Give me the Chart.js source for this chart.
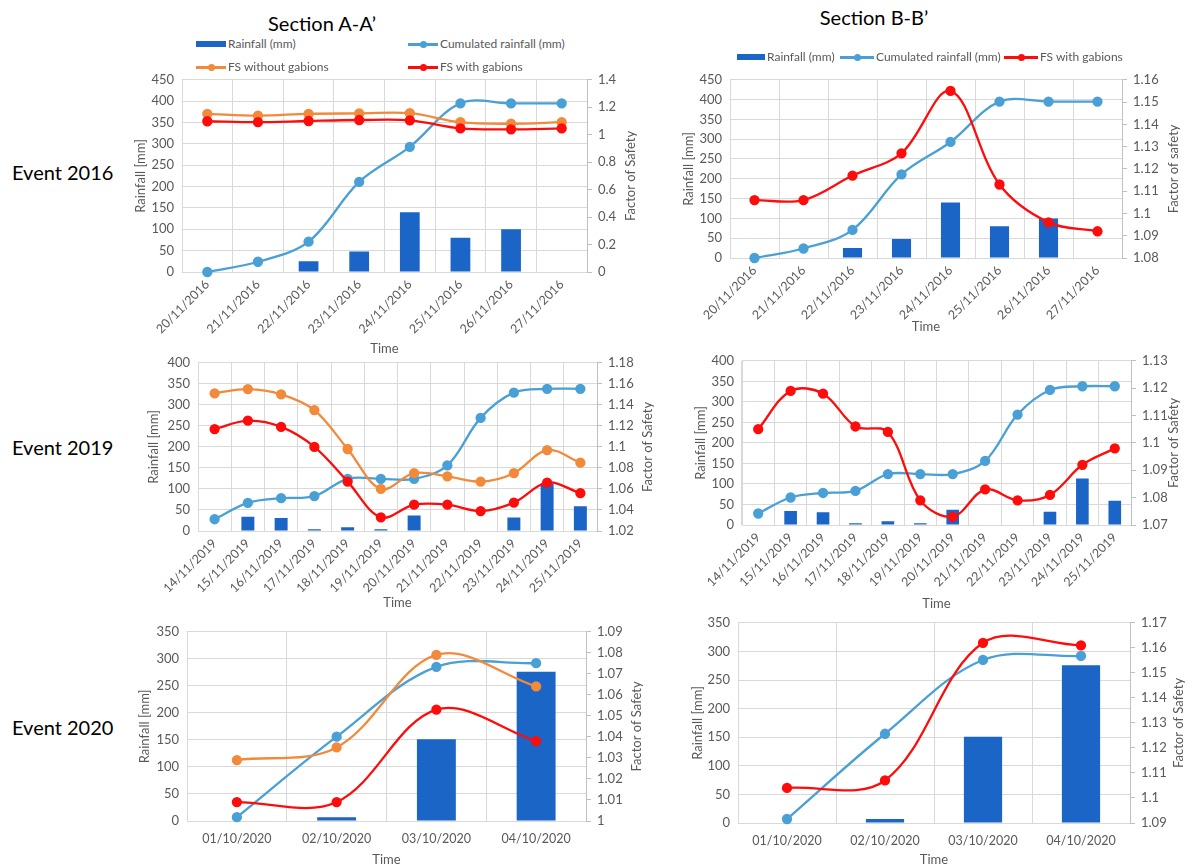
<!DOCTYPE html>
<html>
<head>
<meta charset="utf-8">
<script src="https://cdn.jsdelivr.net/npm/chart.js@4.4.1/dist/chart.umd.min.js"></script>
<style>
  body { margin: 0; width: 1204px; height: 868px; position: relative; overflow: hidden; background: #fff; font-family: Lato, sans-serif; }
  canvas { position: absolute; }
  .lbl { position: absolute; font-size: 20px; color: #000; white-space: nowrap; transform: translate(-50%, -50%); }
  .side { position: absolute; font-size: 20px; color: #000; white-space: nowrap; transform: translateY(-50%); }
  .item { position: absolute; height: 16px; line-height: 16px; font-size: 12px; color: #595959; white-space: nowrap; display: flex; align-items: center; z-index: 2; }
  .sw { position: relative; display: inline-block; height: 16px; margin-right: 2px; }
  .sw.bar::before { content: ''; position: absolute; left: 0; right: 0; top: 5px; height: 6px; background: var(--c); }
  .sw.line::before { content: ''; position: absolute; left: 0; right: 0; top: 7px; height: 2.5px; background: var(--c); }
  .sw.line::after { content: ''; position: absolute; left: 50%; top: 4.5px; width: 7px; height: 7px; margin-left: -3.5px; border-radius: 50%; background: var(--c); }
</style>
</head>
<body>
<div class="lbl" style="left:322px;top:23px">Section A-A’</div>
<div class="lbl" style="left:874px;top:17px">Section B-B’</div>
<div class="side" style="left:12px;top:172px">Event 2016</div>
<div class="side" style="left:12px;top:447px">Event 2019</div>
<div class="side" style="left:12px;top:727px">Event 2020</div>

<script>
// ---- data ----
const days2016 = ['20/11/2016', '21/11/2016', '22/11/2016', '23/11/2016', '24/11/2016', '25/11/2016', '26/11/2016', '27/11/2016'];
const rain2016 = [0, 0, 25, 48, 140, 80, 100, 0];
const cum2016 = [0, 24, 71, 211, 293, 395, 395, 395];
const fsNoGabA2016 = [1.152, 1.139, 1.152, 1.155, 1.157, 1.091, 1.080, 1.091];
const fsGabA2016 = [1.098, 1.091, 1.100, 1.107, 1.105, 1.046, 1.039, 1.046];
const fsGabB2016 = [1.106, 1.106, 1.117, 1.127, 1.155, 1.113, 1.096, 1.092];

const days2019 = ['14/11/2019', '15/11/2019', '16/11/2019', '17/11/2019', '18/11/2019', '19/11/2019',
                  '20/11/2019', '21/11/2019', '22/11/2019', '23/11/2019', '24/11/2019', '25/11/2019'];
const rain2019 = [0, 34, 31, 4, 9, 4, 37, 0, 0, 32, 113, 59];
const cum2019 = [28, 67, 78, 83, 124, 124, 124, 156, 269, 329, 338, 338];
const fsNoGabA2019 = [1.151, 1.155, 1.150, 1.135, 1.098, 1.060, 1.075, 1.072, 1.067, 1.075, 1.097, 1.085];
const fsGabA2019 = [1.117, 1.125, 1.119, 1.100, 1.067, 1.033, 1.045, 1.045, 1.039, 1.047, 1.066, 1.056];
const fsGabB2019 = [1.105, 1.119, 1.118, 1.106, 1.104, 1.079, 1.073, 1.083, 1.079, 1.081, 1.092, 1.098];

const days2020 = ['01/10/2020', '02/10/2020', '03/10/2020', '04/10/2020'];
const rain2020 = [0, 7, 151, 276];
const cum2020 = [7, 156, 285, 292];
const fsNoGabA2020 = [1.029, 1.035, 1.079, 1.064];
const fsGabA2020 = [1.009, 1.009, 1.053, 1.038];
const fsGabB2020 = [1.104, 1.107, 1.162, 1.161];

// axis ranges: [min, max, step]
const rainAxis2016 = [0, 450, 50], fsAxisA2016 = [0, 1.4, 0.2], fsAxisB2016 = [1.08, 1.16, 0.01];
const rainAxis2019 = [0, 400, 50], fsAxisA2019 = [1.02, 1.18, 0.02], fsAxisB2019 = [1.07, 1.13, 0.01];
const rainAxis2020 = [0, 350, 50], fsAxisA2020 = [1.00, 1.09, 0.01], fsAxisB2020 = [1.09, 1.17, 0.01];

// ---- styling ----
const BAR = '#1a65c6';
const CUM = '#49a0d6';
const ORANGE = '#f28a3b';
const RED = '#fe0c0c';
const GRID = '#d9d9d9';
const TEXT = '#595959';

Chart.defaults.font.family = 'Lato, sans-serif';
Chart.defaults.color = TEXT;

function rainSet(data) {
  return { type: 'bar', label: 'Rainfall (mm)', data, backgroundColor: BAR, categoryPercentage: 1, barPercentage: 0.39, order: 10, yAxisID: 'y' };
}
function lineSet(label, data, color, axis, order) {
  return {
    type: 'line', label, data, borderColor: color, backgroundColor: color,
    pointBackgroundColor: color, pointBorderColor: color, pointRadius: 4, pointHoverRadius: 4,
    borderWidth: 2.3, tension: 0.35, yAxisID: axis, order, clip: false
  };
}

// right-hand axis title, reading bottom to top like the left one
const sideTitle = {
  id: 'sideTitle',
  afterDraw(chart, args, opts) {
    const s = chart.scales.y1, ctx = chart.ctx, a = chart.chartArea;
    ctx.save();
    ctx.translate(s.right - 7.5, (a.top + a.bottom) / 2);
    ctx.rotate(-Math.PI / 2);
    ctx.font = '13px Lato';
    ctx.fillStyle = TEXT;
    ctx.textAlign = 'center';
    ctx.textBaseline = 'middle';
    ctx.fillText(opts.text, 0, 0);
    ctx.restore();
  }
};

// box: plot area edges plus the centre lines of the three axis titles
function makeChart(box, labels, datasets, yr, y1r, rot, rightTitle) {
  const x0 = Math.round(box.yt - 7.5), x1 = Math.round(box.rt + 7.5);
  const y0 = box.t - 10, y1 = Math.round(box.xt + 7.5);
  const cv = document.createElement('canvas');
  cv.width = x1 - x0;
  cv.height = y1 - y0;
  cv.style.left = x0 + 'px';
  cv.style.top = y0 + 'px';
  document.body.appendChild(cv);
  const wL = box.l - x0, wR = x1 - box.r, hX = y1 - box.b;

  return new Chart(cv, {
    type: 'bar',
    data: { labels, datasets },
    plugins: [sideTitle],
    options: {
      responsive: false,
      animation: false,
      layout: { padding: { top: 10 } },
      plugins: { legend: { display: false }, tooltip: { enabled: false }, sideTitle: { text: rightTitle } },
      scales: {
        x: {
          offset: true,
          grid: { offset: true, color: GRID, drawTicks: false },
          border: { color: GRID },
          ticks: { autoSkip: false, minRotation: rot, maxRotation: rot, padding: rot ? 5 : 10, font: { size: 12.5 } },
          title: { display: true, text: 'Time', padding: 0, font: { size: 13 } },
          afterFit: s => { s.height = hX; }
        },
        y: {
          min: yr[0], max: yr[1],
          ticks: { stepSize: yr[2], padding: 8, font: { size: 13 } },
          grid: { color: GRID, drawTicks: false },
          border: { color: GRID },
          title: { display: true, text: 'Rainfall [mm]', padding: 0, font: { size: 13 } },
          afterFit: s => { s.width = wL; }
        },
        y1: {
          position: 'right',
          min: y1r[0], max: y1r[1],
          ticks: { stepSize: y1r[2], padding: 6, font: { size: 13 }, callback: v => String(+v.toFixed(3)) },
          grid: { drawOnChartArea: false, color: '#bfbfbf', tickLength: 5 },
          border: { color: '#bfbfbf' },
          afterFit: s => { s.width = wR; }
        }
      }
    }
  });
}

// legend built from the chart's own datasets; spots = [left, centreY, swatchWidth]
function htmlLegend(chart, spots) {
  chart.data.datasets.forEach((ds, i) => {
    const [x, y, w] = spots[i];
    const item = document.createElement('div');
    item.className = 'item';
    item.style.left = x + 'px';
    item.style.top = (y - 8) + 'px';
    const sw = document.createElement('span');
    sw.className = 'sw ' + (ds.type === 'bar' ? 'bar' : 'line');
    sw.style.width = w + 'px';
    sw.style.setProperty('--c', ds.backgroundColor);
    item.appendChild(sw);
    item.appendChild(document.createTextNode(ds.label));
    document.body.appendChild(item);
  });
}

// ---- Section A-A' ----
const a2016 = makeChart({ l: 182, r: 587, t: 74, b: 272, yt: 140, rt: 630, xt: 349 }, days2016, [
  rainSet(rain2016),
  lineSet('Cumulated rainfall (mm)', cum2016, CUM, 'y', 3),
  lineSet('FS without gabions', fsNoGabA2016, ORANGE, 'y1', 2),
  lineSet('FS with gabions', fsGabA2016, RED, 'y1', 1)
], rainAxis2016, fsAxisA2016, 45, 'Factor of Safety');
htmlLegend(a2016, [[196, 44, 30], [408, 44, 30], [196, 67, 30], [408, 67, 30]]);

makeChart({ l: 198, r: 597, t: 357, b: 531, yt: 153, rt: 647, xt: 603 }, days2019, [
  rainSet(rain2019),
  lineSet('Cumulated rainfall (mm)', cum2019, CUM, 'y', 3),
  lineSet('FS without gabions', fsNoGabA2019, ORANGE, 'y1', 2),
  lineSet('FS with gabions', fsGabA2019, RED, 'y1', 1)
], rainAxis2019, fsAxisA2019, 45, 'Factor of Safety');

makeChart({ l: 187, r: 586, t: 626, b: 821, yt: 144, rt: 636, xt: 860 }, days2020, [
  rainSet(rain2020),
  lineSet('Cumulated rainfall (mm)', cum2020, CUM, 'y', 3),
  lineSet('FS without gabions', fsNoGabA2020, ORANGE, 'y1', 2),
  lineSet('FS with gabions', fsGabA2020, RED, 'y1', 1)
], rainAxis2020, fsAxisA2020, 0, 'Factor of Safety');

// ---- Section B-B' ----
const b2016 = makeChart({ l: 730, r: 1122, t: 74, b: 258, yt: 688, rt: 1173, xt: 327 }, days2016, [
  rainSet(rain2016),
  lineSet('Cumulated rainfall (mm)', cum2016, CUM, 'y', 3),
  lineSet('FS with gabions', fsGabB2016, RED, 'y1', 1)
], rainAxis2016, fsAxisB2016, 45, 'Factor of safety');
htmlLegend(b2016, [[737, 57, 28], [840, 57, 34], [1004, 57, 34]]);

makeChart({ l: 742, r: 1131, t: 355, b: 525, yt: 700, rt: 1173, xt: 604 }, days2019, [
  rainSet(rain2019),
  lineSet('Cumulated rainfall (mm)', cum2019, CUM, 'y', 3),
  lineSet('FS with gabions', fsGabB2019, RED, 'y1', 1)
], rainAxis2019, fsAxisB2019, 45, 'Factor of Safety');

makeChart({ l: 738, r: 1130, t: 617, b: 823, yt: 697, rt: 1178, xt: 860 }, days2020, [
  rainSet(rain2020),
  lineSet('Cumulated rainfall (mm)', cum2020, CUM, 'y', 3),
  lineSet('FS with gabions', fsGabB2020, RED, 'y1', 1)
], rainAxis2020, fsAxisB2020, 0, 'Factor of Safety');
</script>
</body>
</html>
